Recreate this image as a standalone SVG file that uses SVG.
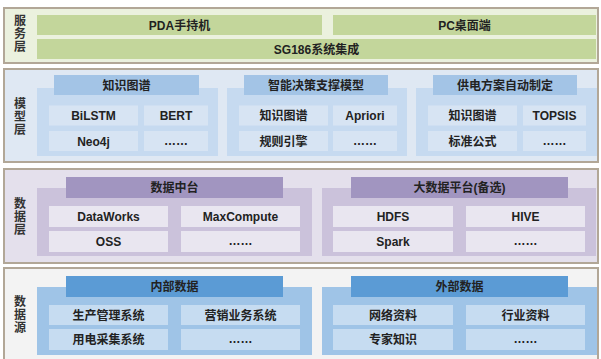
<svg xmlns="http://www.w3.org/2000/svg" width="601" height="359" viewBox="0 0 601 359">
  <style>
    text { font-family: "Liberation Sans", "Noto Sans CJK SC", sans-serif; font-weight: bold; font-size: 12px; fill: #222; text-anchor: middle; }
    .layer { stroke: #b2a797; stroke-width: 2; }
    .side { font-family: "Noto Sans CJK SC", sans-serif; font-size: 12px; fill: #333; writing-mode: vertical-rl; letter-spacing: 1px; }
    .svc-bg { fill: #ebf1de; }
    .svc-bar { fill: #c3d69b; }
    .mdl-bg { fill: #dfe8f3; }
    .mdl-panel { fill: #c6daf0; }
    .mdl-title { fill: #a3c4e6; }
    .mdl-cell { fill: #d7e4f3; }
    .dat-bg { fill: #e4e0ec; }
    .dat-panel { fill: #cbc2db; }
    .dat-title { fill: #a195c0; }
    .dat-cell { fill: #e9e6f0; }
    .src-bg { fill: #f3f3f3; }
    .src-panel { fill: #9fc4e7; }
    .src-title { fill: #5b9bd5; }
    .src-cell { fill: #c6dcf1; }
  </style>

  <!-- Service layer -->
  <g id="layer-service">
    <rect class="layer svc-bg" x="4" y="8" width="594" height="55"/>
    <text class="side" x="20" y="34">服务层</text>
  </g>
  <g id="svc-pda">
    <rect class="svc-bar" x="37" y="15" width="285" height="20"/>
    <text x="179.5" y="29.5">PDA手持机</text>
  </g>
  <g id="svc-pc">
    <rect class="svc-bar" x="333" y="15" width="263" height="20"/>
    <text x="464.5" y="29.5">PC桌面端</text>
  </g>
  <g id="svc-sg186">
    <rect class="svc-bar" x="37" y="39" width="559" height="20"/>
    <text x="316.5" y="53.5">SG186系统集成</text>
  </g>

  <!-- Model layer -->
  <g id="layer-model">
    <rect class="layer mdl-bg" x="4" y="69" width="594" height="93"/>
    <text class="side" x="20" y="117">模型层</text>
  </g>
  <g id="mdl-kg">
    <rect class="mdl-panel" x="37" y="88" width="181" height="68"/>
    <rect class="mdl-title" x="54" y="75" width="145" height="20"/>
    <text x="126.5" y="89.5">知识图谱</text>
    <rect class="mdl-cell" x="49" y="105.5" width="89" height="20"/>
    <text x="93.5" y="120">BiLSTM</text>
    <rect class="mdl-cell" x="144" y="105.5" width="64" height="20"/>
    <text x="176" y="120">BERT</text>
    <rect class="mdl-cell" x="49" y="131" width="89" height="20"/>
    <text x="93.5" y="145.5">Neo4j</text>
    <rect class="mdl-cell" x="144" y="131" width="64" height="20"/>
    <text x="176" y="145">……</text>
  </g>
  <g id="mdl-decision">
    <rect class="mdl-panel" x="227" y="88" width="180" height="68"/>
    <rect class="mdl-title" x="244" y="75" width="144" height="20"/>
    <text x="316" y="89.5">智能决策支撑模型</text>
    <rect class="mdl-cell" x="239" y="105.5" width="89" height="20"/>
    <text x="283.5" y="120">知识图谱</text>
    <rect class="mdl-cell" x="333" y="105.5" width="64" height="20"/>
    <text x="365" y="120">Apriori</text>
    <rect class="mdl-cell" x="239" y="131" width="89" height="20"/>
    <text x="283.5" y="145.5">规则引擎</text>
    <rect class="mdl-cell" x="333" y="131" width="64" height="20"/>
    <text x="365" y="145">……</text>
  </g>
  <g id="mdl-supply">
    <rect class="mdl-panel" x="416" y="88" width="181" height="68"/>
    <rect class="mdl-title" x="433" y="75" width="144" height="20"/>
    <text x="505" y="89.5">供电方案自动制定</text>
    <rect class="mdl-cell" x="428" y="105.5" width="89" height="20"/>
    <text x="472.5" y="120">知识图谱</text>
    <rect class="mdl-cell" x="523" y="105.5" width="63" height="20"/>
    <text x="554.5" y="120">TOPSIS</text>
    <rect class="mdl-cell" x="428" y="131" width="89" height="20"/>
    <text x="472.5" y="145.5">标准公式</text>
    <rect class="mdl-cell" x="523" y="131" width="63" height="20"/>
    <text x="554.5" y="145">……</text>
  </g>

  <!-- Data layer -->
  <g id="layer-data">
    <rect class="layer dat-bg" x="4" y="169" width="594" height="94"/>
    <text class="side" x="20" y="217">数据层</text>
  </g>
  <g id="dat-middle">
    <rect class="dat-panel" x="37" y="188" width="275" height="68"/>
    <rect class="dat-title" x="66" y="177" width="217" height="21"/>
    <text x="174.5" y="192">数据中台</text>
    <rect class="dat-cell" x="49" y="206" width="119" height="21"/>
    <text x="108.5" y="221">DataWorks</text>
    <rect class="dat-cell" x="181" y="206" width="119" height="21"/>
    <text x="240.5" y="221">MaxCompute</text>
    <rect class="dat-cell" x="49" y="231" width="119" height="21"/>
    <text x="108.5" y="246">OSS</text>
    <rect class="dat-cell" x="181" y="231" width="119" height="21"/>
    <text x="240.5" y="245">……</text>
  </g>
  <g id="dat-bigdata">
    <rect class="dat-panel" x="322" y="188" width="274" height="68"/>
    <rect class="dat-title" x="351" y="177" width="217" height="21"/>
    <text x="459.5" y="192">大数据平台(备选)</text>
    <rect class="dat-cell" x="333" y="206" width="120" height="21"/>
    <text x="393" y="221">HDFS</text>
    <rect class="dat-cell" x="466" y="206" width="119" height="21"/>
    <text x="525.5" y="221">HIVE</text>
    <rect class="dat-cell" x="333" y="231" width="120" height="21"/>
    <text x="393" y="246">Spark</text>
    <rect class="dat-cell" x="466" y="231" width="119" height="21"/>
    <text x="525.5" y="245">……</text>
  </g>

  <!-- Data source layer -->
  <g id="layer-source">
    <rect class="layer src-bg" x="4" y="268" width="594" height="100"/>
    <text class="side" x="20" y="315">数据源</text>
  </g>
  <g id="src-internal">
    <rect class="src-panel" x="37" y="287" width="275" height="68"/>
    <rect class="src-title" x="66" y="276" width="217" height="21"/>
    <text x="174.5" y="291">内部数据</text>
    <rect class="src-cell" x="49" y="305" width="119" height="20"/>
    <text x="108.5" y="319.5">生产管理系统</text>
    <rect class="src-cell" x="181" y="305" width="119" height="20"/>
    <text x="240.5" y="319.5">营销业务系统</text>
    <rect class="src-cell" x="49" y="329" width="119" height="21"/>
    <text x="108.5" y="344">用电采集系统</text>
    <rect class="src-cell" x="181" y="329" width="119" height="21"/>
    <text x="240.5" y="343">……</text>
  </g>
  <g id="src-external">
    <rect class="src-panel" x="322" y="287" width="275" height="68"/>
    <rect class="src-title" x="351" y="276" width="217" height="21"/>
    <text x="459.5" y="291">外部数据</text>
    <rect class="src-cell" x="333" y="305" width="120" height="20"/>
    <text x="393" y="319.5">网络资料</text>
    <rect class="src-cell" x="466" y="305" width="119" height="20"/>
    <text x="525.5" y="319.5">行业资料</text>
    <rect class="src-cell" x="333" y="329" width="120" height="21"/>
    <text x="393" y="344">专家知识</text>
    <rect class="src-cell" x="466" y="329" width="119" height="21"/>
    <text x="525.5" y="343">……</text>
  </g>
</svg>
